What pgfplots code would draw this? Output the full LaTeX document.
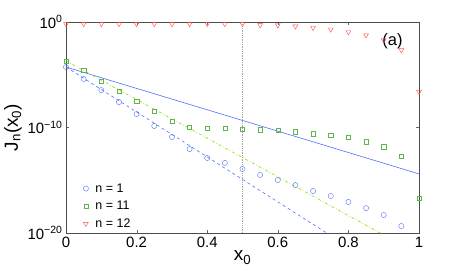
\documentclass[border=0pt]{standalone}
\usepackage{pgfplots}
\pgfplotsset{compat=1.18}
\usepackage{fontspec}
\setmainfont{Liberation Sans}
\definecolor{cblue}{RGB}{80,110,255}
\definecolor{cgreen}{RGB}{95,180,75}
\definecolor{clime}{RGB}{140,220,0}
\definecolor{cred}{RGB}{255,75,75}
\begin{document}
\begin{tikzpicture}
\begin{axis}[
  scale only axis, width=353bp, height=211bp,
  ymode=log, xmin=0, xmax=1, ymin=1e-20, ymax=1,
  xtick={0,0.2,0.4,0.6,0.8,1},
  xticklabels={0,0.2,0.4,0.6,0.8,1},
  ytick={1e-20,1e-10,1},
  yticklabels={10\textsuperscript{−20},10\textsuperscript{−10},10\textsuperscript{0}},
  tick align=inside, major tick length=3bp, minor tick num=0,
  yminorticks=false,
  tick style={black!60},
  axis line style={black!70},
  ticklabel style={font=\fontsize{15}{16}\selectfont},
  xticklabel style={yshift=-1bp},
  /pgf/number format/assume math mode=true,
  xlabel={x\textsubscript{0}}, ylabel={J\textsubscript{n}(x\textsubscript{0})},
  label style={font=\fontsize{19}{20}\selectfont},
  xlabel style={yshift=4bp},
  ylabel style={yshift=-1bp},
  legend style={at={(0.04,0.0)}, anchor=south west, draw=none, fill=none,
    font=\fontsize{12.5}{14}\selectfont, row sep=3.5bp, column sep=5bp, cells={anchor=west}},
  legend cell align=left,
  clip=true,
]
\addplot[only marks, mark=o, mark size=2.6bp, cblue] coordinates {
(0,5.4e-5)(0.05,4.0e-6)(0.1,3.5e-7)(0.15,2.6e-8)(0.2,1.9e-9)(0.25,1.4e-10)
(0.3,1.26e-11)(0.35,9.1e-13)(0.4,1.29e-13)(0.45,4.4e-14)(0.5,1.17e-14)
(0.55,3.2e-15)(0.6,1.05e-15)(0.65,3.5e-16)(0.7,9.5e-17)(0.75,3.2e-17)
(0.8,8.7e-18)(0.85,2.3e-18)(0.9,5.1e-19)(0.95,4.6e-20)};
\addlegendentry{n = 1}
\addplot[only marks, mark=square, mark size=2.1bp, cgreen] coordinates {
(0,2.1e-4)(0.05,2.5e-5)(0.1,2.6e-6)(0.15,2.9e-7)(0.2,3.0e-8)(0.25,3.4e-9)
(0.3,3.9e-10)(0.35,1.12e-10)(0.4,8.9e-11)(0.45,8.9e-11)(0.5,7.2e-11)
(0.55,6.3e-11)(0.6,5.4e-11)(0.65,4.0e-11)(0.7,2.6e-11)(0.75,1.8e-11)
(0.8,1.17e-11)(0.85,4.6e-12)(0.9,1.5e-12)(0.95,2.0e-13)(1,2.0e-17)};
\addlegendentry{n = 11}
\addplot[only marks, mark=triangle, mark options={rotate=180}, mark size=2.8bp, cred] coordinates {
(0,0.65)(0.05,0.65)(0.1,0.65)(0.15,0.65)(0.2,0.65)(0.25,0.65)(0.3,0.65)
(0.35,0.65)(0.4,0.65)(0.45,0.65)(0.5,0.65)(0.55,0.52)(0.6,0.49)(0.65,0.39)
(0.7,0.29)(0.75,0.20)(0.8,0.11)(0.85,0.055)(0.9,0.0186)(0.95,0.0022)(1,2.5e-7)};
\addlegendentry{n = 12}
\addplot[cblue, line width=0.6pt, forget plot] coordinates {(0,5.4e-5)(1,4.0e-15)};
\addplot[cblue, line width=0.6pt, dashed, forget plot] coordinates {(0,5.4e-5)(0.8,4.9e-22)};
\addplot[clime, line width=0.6pt, dash dot, forget plot] coordinates {(0,2.1e-4)(0.95,8e-22)};
\addplot[black!35, densely dotted, thick, forget plot] coordinates {(0.5,1e-20)(0.5,1)};
\node[font=\fontsize{16.5}{18}\selectfont] at (axis cs:0.925,1.5e-2) {(a)};
\end{axis}
\path[use as bounding box] ([xshift=-66bp,yshift=-46bp]current axis.south west) rectangle ([xshift=44bp,yshift=22bp]current axis.north east);
\end{tikzpicture}
\end{document}
